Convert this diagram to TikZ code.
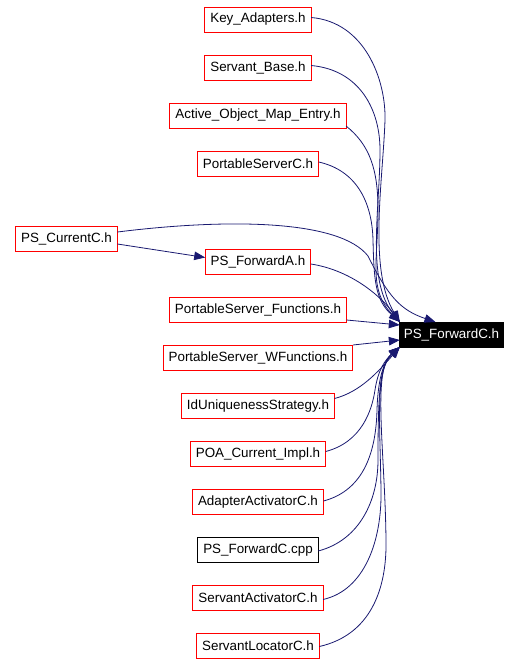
\documentclass[tikz,border=0pt]{standalone}
\usepackage{fontspec}
\setmainfont{Liberation Sans}
\usetikzlibrary{positioning,arrows.meta}
\definecolor{edgeblue}{HTML}{191970}
\begin{document}
\begin{tikzpicture}[x=1pt,y=1pt,
file/.style={draw=red,line width=1pt,minimum height=25pt,inner xsep=5.5pt,inner ysep=0pt,outer sep=0pt,font=\fontsize{13.4}{16}\selectfont},
plain/.style={file,draw=black},
main/.style={file,draw=black,fill=black,text=white,inner xsep=4pt},
dep/.style={edgeblue,line width=0.8pt,-{Triangle[length=11pt,width=8.5pt]}}]
\useasboundingbox (0,0) rectangle (520,-664);
\node[file] (s1) at (258,-19.5) {Key\_Adapters.h};
\node[file,below=23pt of s1] (s2) {Servant\_Base.h};
\node[file,below=23pt of s2] (s3) {Active\_Object\_Map\_Entry.h};
\node[file,below=23pt of s3] (s4) {PortableServerC.h};
\node[file,below=73.5pt of s4] (fa) {PS\_ForwardA.h};
\node[file,below=23pt of fa] (fn) {PortableServer\_Functions.h};
\node[file,below=23pt of fn] (wf) {PortableServer\_WFunctions.h};
\node[file,below=23pt of wf] (id) {IdUniquenessStrategy.h};
\node[file,below=23pt of id] (poa) {POA\_Current\_Impl.h};
\node[file,below=23pt of poa] (aa) {AdapterActivatorC.h};
\node[plain,below=23pt of aa] (cpp) {PS\_ForwardC.cpp};
\node[file,below=23pt of cpp] (sa) {ServantActivatorC.h};
\node[file,below=23pt of sa] (sl) {ServantLocatorC.h};
\node[file] (cur) at (66.5,-238.5) {PS\_CurrentC.h};
\node[main] (fc) at (451.5,-334.5) {PS\_ForwardC.h};
% from above
\draw[dep] ([yshift=2pt]s1.east) .. controls (365,-22) and (386,-80) .. (385,-120) .. controls (383,-180) and (368,-270) .. (fc.north west);
\draw[dep] ([yshift=2pt]s2.east) .. controls (360,-70) and (380,-110) .. (380,-150) .. controls (380,-210) and (366,-280) .. (fc.north west);
\draw[dep] ([yshift=2pt]s3.south east) .. controls (370,-145) and (378,-170) .. (378,-210) .. controls (378,-260) and (368,-290) .. (fc.north west);
\draw[dep] ([yshift=1.5pt]s4.east) .. controls (355,-170) and (372,-200) .. (373,-240) .. controls (374,-280) and (375,-300) .. (fc.north west);
\draw[dep] ([yshift=6.5pt]cur.east) .. controls (230,-218) and (340,-220) .. (368,-256) .. controls (388,-296) and (400,-310) .. ([xshift=-16pt]fc.north);
\draw[dep] ([yshift=-5.5pt]cur.east) -- ([yshift=4.5pt]fa.west);
\draw[dep] ([yshift=-2pt]fa.east) .. controls (350,-270) and (380,-295) .. (fc.north west);
% side
\draw[dep] ([yshift=-10pt]fn.east) -- ([yshift=9.5pt]fc.west);
\draw[dep] ([yshift=13pt]wf.east) -- ([yshift=-5.5pt]fc.west);
% from below
\draw[dep] ([yshift=7.5pt]id.east) .. controls (360,-392) and (378,-372) .. (fc.south west);
\draw[dep] ([yshift=2.5pt]poa.east) .. controls (362,-442) and (372,-410) .. (375,-390) .. controls (378,-370) and (385,-360) .. (fc.south west);
\draw[dep] ([yshift=1pt]aa.east) .. controls (365,-490) and (376,-450) .. (377,-410) .. controls (378,-375) and (385,-360) .. (fc.south west);
\draw[dep] ([yshift=-1pt]cpp.east) .. controls (360,-540) and (378,-500) .. (378,-460) .. controls (378,-390) and (380,-365) .. (fc.south west);
\draw[dep] ([yshift=-1.5pt]sa.east) .. controls (365,-590) and (382,-540) .. (381,-490) .. controls (380,-420) and (375,-370) .. (fc.south west);
\draw[dep] ([yshift=-0.5pt]sl.east) .. controls (370,-635) and (387,-590) .. (386,-540) .. controls (385,-450) and (372,-370) .. (fc.south west);
\end{tikzpicture}
\end{document}
